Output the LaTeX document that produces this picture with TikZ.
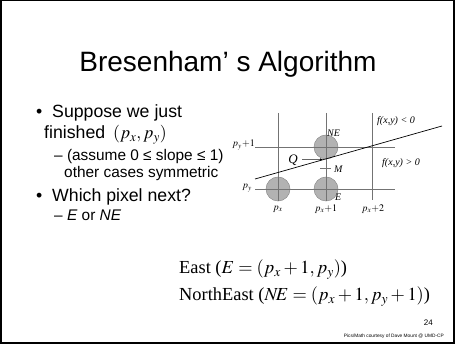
\documentclass[tikz,border=0pt]{standalone}
\usepackage{mathptmx}
\usepackage[no-math]{fontspec}
\setmainfont{Liberation Sans}
\newfontfamily\tms{Liberation Serif}
\usetikzlibrary{arrows.meta}
\begin{document}
\begin{tikzpicture}[x=1pt,y=-1pt,
  txt/.style={anchor=base west,inner sep=0pt},
  big/.style={font=\fontsize{17.7}{20}\selectfont},
  small/.style={font=\fontsize{15.4}{17}\selectfont},
  lab/.style={inner sep=0pt,font=\tms\itshape\fontsize{10}{11}\selectfont},
  grid/.style={draw=black!55,line width=0.5pt},
  pix/.style={circle,minimum size=24pt,inner sep=0pt,fill=black!30,draw=black!45,line width=0.5pt},
  eq/.style={anchor=base west,inner sep=0pt,font=\tms\fontsize{18.4}{20}\selectfont}]
\useasboundingbox (0,0) rectangle (455,344);
\draw[line width=1.6pt] (0.8,0.6) rectangle (454.2,343.2);
% title
\node[anchor=base,inner sep=0pt,font=\fontsize{28}{30}\selectfont] (title) at (228,72) {Bresenham’ s Algorithm};
% bullets
\node[txt,big] (d1) at (36,118) {•};
\node[txt,big] (t1) at (52,118) {Suppose we just};
\node[txt,big] (t2) at (44,139) {finished \,$(p_x,p_y)$};
\node[txt,small] (s1) at (54,161) {– (assume 0 ≤ slope ≤ 1)};
\node[txt,small] (s2) at (64,178) {other cases symmetric};
\node[txt,big] (d2) at (36,202) {•};
\node[txt,big] (t3) at (52,202) {Which pixel next?};
\node[txt,small] (s3) at (54,221) {– \textit{E} or \textit{NE}};
% diagram grid
\draw[grid] (278,113) -- (278,200);
\draw[grid] (326,113) -- (326,200);
\draw[grid] (372,113) -- (372,200);
\draw[grid] (255,147) -- (395,147);
\draw[grid] (255,189) -- (395,189);
\node[pix] (p0) at (278,189) {};
\node[pix] (pe) at (326,189) {};
\node[pix] (pne) at (326,147) {};
\draw[grid] (p0.west) -- (p0.east) (p0.north) -- (p0.south);
\draw[grid] (pe.west) -- (pe.east) (pe.north) -- (pe.south);
\draw[grid] (pne.west) -- (pne.east) (pne.north) -- (pne.south);
% line
\coordinate (la) at (255,179);
\coordinate (lb) at (442,126);
\draw[line width=0.7pt] (la) -- (lb);
% M tick
\coordinate (m1) at (320,168);
\coordinate (m2) at (331,168);
\draw[grid] (m1) -- (m2);
\node[lab,anchor=west] (M) at (334,169) {M};
% Q
\node[lab,anchor=east,font=\tms\itshape\fontsize{13}{14}\selectfont] (Q) at (298,160) {Q};
\coordinate (qt) at (323,159.5);
\draw[black!60,line width=0.5pt,-{Latex[length=3pt,width=2.5pt,black]}] (302,159.5) -- (qt);
% labels
\node[lab,anchor=south west] (NE) at (327,137) {NE};
\node[lab,anchor=west] (E) at (335,197) {E};
\node[lab,anchor=east] (py1) at (255,145) {$p_y{+}1$};
\node[lab,anchor=east] (py) at (252,188) {$p_y$};
\node[lab] (px) at (278,209) {$p_x$};
\node[lab] (px1) at (326,209) {$p_x{+}1$};
\node[lab] (px2) at (373,209) {$p_x{+}2$};
\node[lab,anchor=west] (fneg) at (377,121) {f(x,y) < 0};
\node[lab,anchor=west] (fpos) at (382,163) {f(x,y) > 0};
% equations
\node[eq] (e1) at (179,274) {East ($E=(p_x+1,p_y)$)};
\node[eq] (e2) at (179,301) {NorthEast ($N\!E=(p_x+1,p_y+1)$)};
% footer
\node[anchor=base east,inner sep=0pt,font=\fontsize{8}{9}\selectfont] (pg) at (433,326) {24};
\node[anchor=base east,inner sep=0pt,font=\fontsize{4.8}{5}\selectfont] (cr) at (444,338) {Pics/Math courtesy of Dave Mount @ UMD-CP};
\end{tikzpicture}
\end{document}
